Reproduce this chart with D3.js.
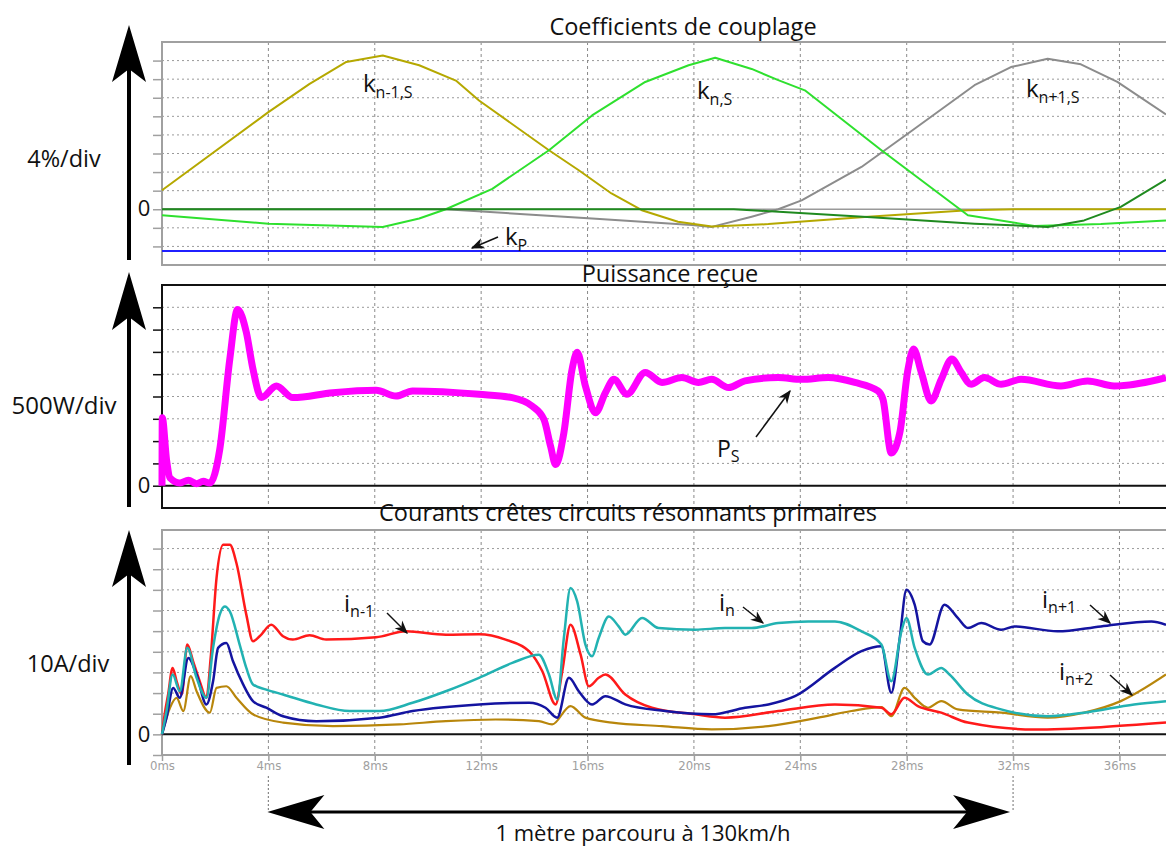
<!DOCTYPE html>
<html><head><meta charset="utf-8">
<script src="https://cdnjs.cloudflare.com/ajax/libs/d3/7.8.5/d3.min.js"></script>
<style>body{margin:0;background:#fff}svg{display:block}</style>
</head><body><svg id="c" width="1166" height="846"></svg>
<script>
// ---------- DATA ----------
const timeTicks = [0,4,8,12,16,20,24,28,32,36]; // ms
const topTitle = "Coefficients de couplage";
const midTitle = "Puissance reçue";
const botTitle = "Courants crêtes circuits résonnants primaires";

// Coupling coefficients (%), [time ms, value]
const kPrevS = [[0,4.1],[4,20.9],[5.55,27.0],[6.93,31.7],[8.3,33.1],[9.67,31.0],[11.05,27.7],[11.92,23.4],[14.55,12.7],[15.67,8.4],[16.9,3.4],[18.04,-0.2],[19.4,-2.7],[20.67,-3.7],[22.8,-3.2],[26.55,-1.6],[30.3,-0.2],[32.05,0],[37.75,0]];
const kCurS = [[0,-1.3],[4,-3.1],[8.3,-3.8],[9.67,-2.0],[10.67,0],[12.42,4.4],[14.55,12.7],[16.17,20.2],[18.17,27.4],[19.8,31.0],[20.8,32.6],[22.17,30.2],[23.17,27.8],[24.17,25.6],[27.05,12.7],[30.3,-1.3],[32.8,-3.6],[35.3,-3.2],[37.75,-2.4]];
const kNextS = [[0,0],[10.67,0],[16.17,-2.0],[19.92,-3.4],[20.67,-3.8],[22.17,-1.6],[23.17,0],[24.05,1.9],[26.3,9.1],[28.05,16.3],[30.55,26.7],[31.92,30.6],[33.3,32.4],[34.55,31.2],[35.92,27.4],[37.75,20.4]];
const kNext2S = [[0,0],[21.5,0],[26.67,-1.7],[30.55,-3.1],[33.3,-3.8],[34.67,-2.4],[36.05,0.5],[37.75,6.4]];
const kP = [[0,-9.0],[37.75,-9.0]];

// Received power (W)
const powerS = [[0,0],[0.01,1525],[0.17,585],[0.3,175],[0.67,60],[0.99,120],[1.3,45],[1.55,100],[1.8,60],[2.17,810],[2.55,2840],[2.84,3950],[3.17,3440],[3.42,2615],[3.74,1975],[4.3,2235],[4.92,1975],[6.42,2085],[8.05,2140],[8.8,2010],[9.42,2125],[11.92,2050],[13.17,1975],[13.92,1785],[14.36,1485],[14.61,885],[14.8,475],[15.11,1185],[15.42,2615],[15.61,2990],[15.92,2235],[16.3,1635],[16.67,2085],[16.99,2385],[17.48,2050],[18.17,2540],[18.8,2315],[19.55,2425],[20.17,2315],[20.67,2385],[21.3,2200],[21.92,2350],[23.17,2425],[24.05,2385],[25.05,2425],[26.05,2315],[26.92,2125],[27.11,1935],[27.42,735],[27.74,1185],[28.05,2615],[28.26,3065],[28.55,2540],[28.92,1900],[29.3,2385],[29.7,2840],[30.05,2540],[30.42,2275],[30.92,2425],[31.55,2275],[32.3,2385],[33.8,2235],[34.8,2350],[35.8,2235],[37.75,2425]];

// Peak currents (A)
const iPrev = [[0,0],[0.1,9.7],[0.23,19.3],[0.4,32.2],[0.55,25.7],[0.74,19.3],[0.95,43.5],[1.17,35.4],[1.42,25.7],[1.67,17.7],[1.83,37],[2.05,75.7],[2.3,91.8],[2.55,91.8],[2.8,82.9],[3.17,58],[3.42,45.1],[3.67,47.5],[4.11,53.1],[4.55,47.5],[4.92,45.9],[5.55,48],[6.17,45.9],[8.05,47],[9.17,49.9],[10.67,48.3],[11.92,48.5],[12.92,45.9],[13.8,40.3],[14.3,30.6],[14.8,14.5],[15.05,30.6],[15.36,53.1],[15.74,38.6],[16.05,23.3],[16.42,27.4],[16.67,29],[17.42,19.3],[18.42,12.9],[20.05,9.7],[21.17,8.1],[23.17,11.3],[25.3,14.5],[27.05,12.9],[27.42,9.7],[27.92,17.7],[28.42,13.7],[29.3,10.5],[30.3,5.7],[32.8,2.4],[35.3,3.5],[37.75,5.7]];
const iCur = [[0,0],[0.17,11.3],[0.4,29],[0.67,20.9],[0.95,41.9],[1.3,27.4],[1.67,17.7],[1.92,41.9],[2.17,58],[2.36,62],[2.55,59.6],[2.92,43.5],[3.17,32.2],[3.42,24.2],[3.92,21.7],[4.55,19.3],[5.8,14.5],[7.05,11.3],[8.17,11.3],[9.42,15.3],[10.67,20.9],[11.92,27.4],[13.17,34.6],[14.17,38.6],[14.55,29],[14.86,16.9],[15.11,46.7],[15.36,70.9],[15.61,64.4],[15.92,43.5],[16.17,37.8],[16.42,46.7],[16.8,57.1],[17.17,52.3],[17.42,48.3],[18.05,56.4],[18.67,51.5],[20.05,50.7],[21.17,51.5],[22.17,51.5],[23.17,53.9],[24.3,54.7],[25.3,54.7],[26.3,49.9],[27.05,43.5],[27.42,25.7],[27.8,49.9],[27.99,56.4],[28.3,41.9],[28.8,29],[29.3,32.2],[29.61,29],[30.3,19.3],[31.55,12.1],[33.3,8.8],[34.67,10.5],[36.55,14.5],[37.75,16.1]];
const iNext = [[0,0],[0.17,8.1],[0.42,22.5],[0.67,17.7],[0.99,37],[1.3,29],[1.67,14.5],[1.92,25.7],[2.11,41.9],[2.42,44.3],[2.67,35.4],[3.05,24.2],[3.42,16.1],[3.92,12.9],[4.55,8.8],[5.8,6.4],[8.17,8.1],[9.42,11.3],[11.92,14.5],[13.8,15.3],[14.42,12.9],[14.86,8.1],[15.3,27.4],[15.67,20.9],[16.17,14.5],[16.67,18.5],[17.42,14.5],[18.92,11.3],[20.67,9.7],[21.92,12.9],[22.8,14.5],[23.8,18.5],[25.3,32.2],[26.3,40.3],[27.05,42.7],[27.42,20.1],[27.74,46.7],[27.99,70],[28.3,62.8],[28.61,45.1],[28.86,43.5],[29.42,62.8],[29.92,56.4],[30.3,51.5],[30.8,53.9],[31.55,50.7],[32.05,52.3],[33.67,49.9],[35.3,52.3],[37.2,54.7],[37.75,53.1]];
const iNext2 = [[0,0],[0.3,12.9],[0.55,17.7],[0.8,11.3],[1.08,28.2],[1.3,20.9],[1.8,10.5],[2.05,22.5],[2.42,23.3],[2.8,17.7],[3.42,9.7],[4.55,5.7],[6.42,4],[8.92,4.8],[10.67,6.4],[12.55,7.2],[14.17,6.4],[14.67,4.8],[15.36,13.7],[15.92,8.1],[16.92,5.7],[18.8,4],[20.67,2.4],[22.8,4],[24.67,8.1],[25.92,11.3],[27.05,13.2],[27.42,8.8],[27.92,22.5],[28.3,17.7],[28.8,12.9],[29.3,16.1],[29.92,12.1],[31.55,10.5],[33.3,8.1],[34.67,10.5],[36.05,16.1],[37.75,29]];

// ---------- DRAW ----------
const svg = d3.select("#c");
const FONT = "'Open Sans', 'Noto Sans', sans-serif";
const x = d3.scaleLinear().domain([0,37.75]).range([162,1166]);
const yTop = d3.scaleLinear().domain([-12,36]).range([265,42]);
const yMid = d3.scaleLinear().domain([-500,4500]).range([508,285]);
const yBot = d3.scaleLinear().domain([-10,99]).range([755,530]);

function panel(y, gridVals, tickVals, frameColor) {
  const [y0, y1] = y.range(); // bottom, top
  const g = svg.append("g");
  g.selectAll(".hg").data(gridVals).join("line")
    .attr("x1", 162).attr("x2", 1166).attr("y1", d=>y(d)).attr("y2", d=>y(d))
    .attr("stroke", "#9a9a9a").attr("stroke-width", 1).attr("stroke-dasharray", "2,3");
  g.selectAll(".vg").data(timeTicks.filter(t=>t>0)).join("line")
    .attr("x1", d=>x(d)).attr("x2", d=>x(d)).attr("y1", y1).attr("y2", y0)
    .attr("stroke", "#8a8a8a").attr("stroke-width", 1).attr("stroke-dasharray", "3,3");
  const ax = g.append("g").attr("transform","translate(162,0)")
    .call(d3.axisLeft(y).tickValues(tickVals).tickSize(9).tickFormat(""));
  ax.select(".domain").remove();
  ax.selectAll("line").attr("stroke", frameColor).attr("stroke-width", 1.5);
  g.append("line").attr("x1",161).attr("x2",1166).attr("y1",y1).attr("y2",y1).attr("stroke",frameColor).attr("stroke-width",2);
  g.append("line").attr("x1",161).attr("x2",1166).attr("y1",y0).attr("y2",y0).attr("stroke",frameColor).attr("stroke-width",2);
  g.append("line").attr("x1",162).attr("x2",162).attr("y1",y1).attr("y2",y0).attr("stroke",frameColor).attr("stroke-width",2);
  return g;
}

function curve(y, data, color, width) {
  svg.append("path").datum(data)
    .attr("d", d3.line().curve(d3.curveMonotoneX).x(d=>x(d[0])).y(d=>y(d[1])))
    .attr("fill","none").attr("stroke",color).attr("stroke-width",width)
    .attr("stroke-linejoin","round").attr("stroke-linecap","butt");
}
function lineCurve(y, data, color, width) {
  svg.append("path").datum(data)
    .attr("d", d3.line().x(d=>x(d[0])).y(d=>y(d[1])))
    .attr("fill","none").attr("stroke",color).attr("stroke-width",width)
    .attr("stroke-linejoin","round");
}

panel(yTop, d3.range(-8,36,4).filter(v=>v!==0), d3.range(-8,36,4), "#a0a0a0");
panel(yMid, d3.range(500,4500,500), d3.range(0,4500,500), "#111");
panel(yBot, d3.range(10,99,10), d3.range(-10,99,10), "#a0a0a0");

svg.append("line").attr("x1",162).attr("x2",1166).attr("y1",yTop(0)).attr("y2",yTop(0)).attr("stroke","#999").attr("stroke-width",1.5);
svg.append("line").attr("x1",162).attr("x2",1166).attr("y1",yMid(0)).attr("y2",yMid(0)).attr("stroke","#111").attr("stroke-width",2);
svg.append("line").attr("x1",162).attr("x2",1166).attr("y1",yBot(0)).attr("y2",yBot(0)).attr("stroke","#111").attr("stroke-width",2);

// Top curves (piecewise linear like the original)
lineCurve(yTop, kP, "#2020ff", 2);
lineCurve(yTop, kNextS, "#8c8c8c", 2);
lineCurve(yTop, kPrevS, "#b5a800", 2);
lineCurve(yTop, kCurS, "#2ee02e", 2);
lineCurve(yTop, kNext2S, "#1f8a1f", 2);

// Middle curve
curve(yMid, powerS, "#ff00ff", 7);

// Bottom curves
curve(yBot, iNext2, "#b8860b", 2.2);
curve(yBot, iPrev, "#ff1a1a", 2.5);
curve(yBot, iNext, "#1414a0", 2.5);
curve(yBot, iCur, "#22b2b2", 2.5);

// X axis
const xa = svg.append("g").attr("transform","translate(0,755)")
  .call(d3.axisBottom(x).tickValues(timeTicks).tickSize(6).tickFormat(d=>d+"ms"));
xa.select(".domain").remove();
xa.selectAll("line").attr("stroke","#a0a0a0").attr("stroke-width",1.5);
xa.selectAll("text").attr("fill","#a0a0a0").attr("font-size",13)
  .attr("font-family","'DejaVu Sans Condensed', 'DejaVu Sans', sans-serif")
  .attr("font-stretch","condensed").attr("dy","0.45em");

function txt(xp, yp, s, size, anchor) {
  return svg.append("text").attr("x",xp).attr("y",yp).attr("font-size",size)
    .attr("font-family",FONT).attr("text-anchor",anchor||"start").attr("fill","#111").text(s);
}
txt(683, 35, topTitle, 23.5, "middle");
txt(670, 282, midTitle, 23.5, "middle");
txt(628, 521, botTitle, 23.5, "middle");

txt(64, 167, "4%/div", 23.5, "middle");
txt(64, 414, "500W/div", 24, "middle");
txt(68, 672, "10A/div", 23.5, "middle");
txt(144, 216, "0", 22, "middle");
txt(144, 493, "0", 22, "middle");
txt(144, 742, "0", 22, "middle");

function subLabel(xp, yp, main, sub, size, subSize, dy) {
  const t = svg.append("text").attr("x",xp).attr("y",yp).attr("font-family",FONT).attr("fill","#111");
  t.append("tspan").attr("font-size",size).text(main);
  t.append("tspan").attr("font-size",subSize).attr("dy",dy).text(sub);
}
subLabel(363, 92, "k", "n-1,S", 24, 16, 6);
subLabel(697, 99, "k", "n,S", 24, 16, 6);
subLabel(1026, 97, "k", "n+1,S", 24, 16, 6);
subLabel(505, 245, "k", "P", 24, 16, 6);
subLabel(717, 457, "P", "S", 23, 16, 5);
subLabel(344, 612, "i", "n-1", 24, 16, 5);
subLabel(719, 611, "i", "n", 24, 16, 5);
subLabel(1042, 608, "i", "n+1", 24, 16, 5);
subLabel(1059, 680, "i", "n+2", 24, 16, 5);

const defs = svg.append("defs");
defs.append("marker").attr("id","ah").attr("viewBox","0 0 10 10").attr("refX",9).attr("refY",5)
  .attr("markerWidth",9).attr("markerHeight",9).attr("orient","auto")
  .append("path").attr("d","M0,1 L10,5 L0,9 L3,5 Z").attr("fill","#111");
function pointer(x1,y1,x2,y2){
  svg.append("line").attr("x1",x1).attr("y1",y1).attr("x2",x2).attr("y2",y2)
    .attr("stroke","#111").attr("stroke-width",1.5).attr("marker-end","url(#ah)");
}
pointer(498,237,472,248);
pointer(756,437,790,391);
pointer(387,613,407,633);
pointer(743,607,763,623);
pointer(1090,605,1110,623);
pointer(1110,675,1132,695);

function vArrow(tipY, baseY, bottomY){
  svg.append("rect").attr("x",127).attr("y",tipY+30).attr("width",4).attr("height",bottomY-tipY-30).attr("fill","#000");
  svg.append("path").attr("d",`M129,${tipY} L146,${baseY} L129,${baseY-13} L112,${baseY} Z`).attr("fill","#000");
}
vArrow(25, 82, 260);
vArrow(272, 330, 507);
vArrow(530, 587, 765);

const ay = 812;
svg.append("line").attr("x1",x(4)).attr("x2",x(4)).attr("y1",776).attr("y2",ay).attr("stroke","#888").attr("stroke-width",1.2).attr("stroke-dasharray","2,2");
svg.append("line").attr("x1",x(32)).attr("x2",x(32)).attr("y1",776).attr("y2",ay).attr("stroke","#888").attr("stroke-width",1.2).attr("stroke-dasharray","2,2");
svg.append("rect").attr("x",x(4)+20).attr("y",ay-1.5).attr("width",x(32)-x(4)-40).attr("height",3).attr("fill","#000");
const lx = x(4)-1, rx = x(32)-3;
svg.append("path").attr("d",`M${lx},${ay} L${lx+57},${ay-17} L${lx+43},${ay} L${lx+57},${ay+17} Z`).attr("fill","#000");
svg.append("path").attr("d",`M${rx},${ay} L${rx-57},${ay-17} L${rx-43},${ay} L${rx-57},${ay+17} Z`).attr("fill","#000");
txt(643, 841, "1 mètre parcouru à 130km/h", 22, "middle");
</script>
</body></html>
